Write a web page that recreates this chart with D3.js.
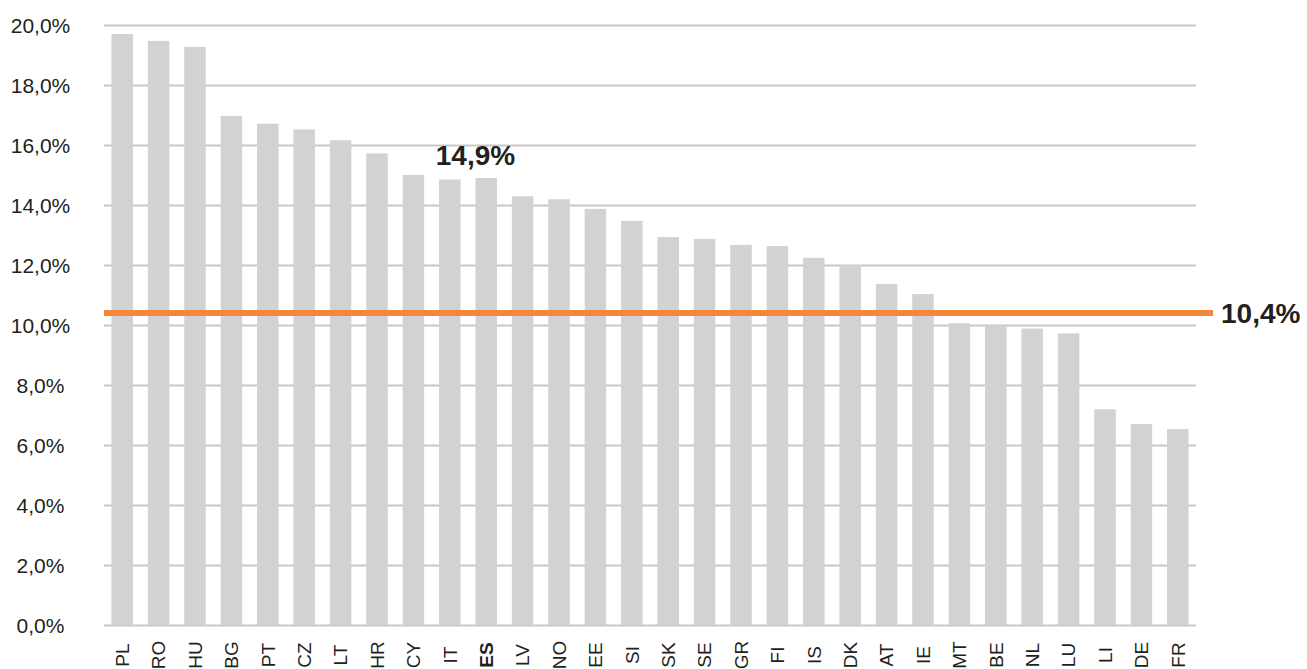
<!DOCTYPE html>
<html>
<head>
<meta charset="utf-8">
<script src="https://cdn.jsdelivr.net/npm/d3@7"></script>
<style>
  html, body { margin: 0; padding: 0; background: #ffffff; }
  svg { display: block; font-family: "Liberation Sans", Arial, Helvetica, sans-serif; }
</style>
</head>
<body>
<svg id="chart" width="1307" height="669"></svg>
<script>
// Country codes, ordered from highest to lowest share
const categories = ["PL","RO","HU","BG","PT","CZ","LT","HR","CY","IT","ES","LV","NO","EE","SI",
                    "SK","SE","GR","FI","IS","DK","AT","IE","MT","BE","NL","LU","LI","DE","FR"];
// Share per country, in percent
const values = [19.7, 19.47, 19.27, 16.97, 16.71, 16.52, 16.16, 15.72, 15.0, 14.85, 14.9, 14.29, 14.19, 13.87, 13.47,
                12.93, 12.87, 12.67, 12.63, 12.24, 12.0, 11.37, 11.03, 10.06, 9.98, 9.88, 9.72, 7.19, 6.7, 6.53];
// Reference average across all countries, in percent
const average = 10.4;
// Country singled out with a bold label and a value callout
const highlight = "ES";
// Y axis tick values, in percent
const yTicks = [0, 2, 4, 6, 8, 10, 12, 14, 16, 18, 20];

const locale = d3.formatLocale({ decimal: ",", thousands: ".", grouping: [3], currency: ["", "€"] });
const fmt1 = locale.format(".1f");
const pct = v => fmt1(v) + "%";

const svg = d3.select("#chart");
const plotLeft = 104, plotRight = 1196, plotTop = 25, plotBottom = 625;

const x = d3.scaleBand()
  .domain(categories)
  .range([plotLeft, plotRight])
  .paddingInner(0.41)
  .paddingOuter(0.205);

const y = d3.scaleLinear()
  .domain([0, 20])
  .range([plotBottom, plotTop]);

// Horizontal gridlines and tick labels
const yAxis = svg.append("g")
  .attr("transform", `translate(${plotLeft},0)`)
  .call(d3.axisLeft(y).tickValues(yTicks).tickSize(-(plotRight - plotLeft)).tickFormat(pct));
yAxis.select(".domain").remove();
yAxis.selectAll(".tick line")
  .attr("stroke", "#c8c8c9")
  .attr("stroke-width", 2);
yAxis.selectAll(".tick text")
  .attr("x", 40.5 - plotLeft)
  .attr("text-anchor", "middle")
  .attr("dy", "0.35em")
  .attr("fill", "#231f20")
  .style("font-size", "21px")
  .style("font-family", "'Liberation Sans', Arial, sans-serif");

// Bars
const data = categories.map((c, i) => ({ c, v: values[i] }));
svg.append("g")
  .selectAll("rect")
  .data(data)
  .join("rect")
  .attr("x", d => x(d.c))
  .attr("width", x.bandwidth())
  .attr("y", d => y(d.v))
  .attr("height", d => y(0) - y(d.v))
  .attr("fill", "#d1d2d4");

// Country labels, rotated to read upward
svg.append("g")
  .selectAll("text")
  .data(data)
  .join("text")
  .attr("transform", d => `translate(${x(d.c) + x.bandwidth() / 2},655) rotate(-90)`)
  .attr("text-anchor", "middle")
  .attr("dy", "0.36em")
  .attr("fill", "#231f20")
  .style("font-size", "19px")
  .style("font-weight", d => d.c === highlight ? "bold" : "normal")
  .text(d => d.c);

// Average line with its label
svg.append("line")
  .attr("x1", plotLeft)
  .attr("x2", 1213)
  .attr("y1", y(average))
  .attr("y2", y(average))
  .attr("stroke", "#f5873a")
  .attr("stroke-width", 6);

svg.append("text")
  .attr("x", 1221)
  .attr("y", y(average))
  .attr("dy", "0.36em")
  .attr("fill", "#231f20")
  .style("font-size", "28px")
  .style("font-weight", "bold")
  .text(pct(average));

// Callout for the highlighted country
const hv = values[categories.indexOf(highlight)];
svg.append("text")
  .attr("x", x(highlight))
  .attr("y", y(hv) - 13)
  .attr("text-anchor", "middle")
  .attr("fill", "#231f20")
  .style("font-size", "28px")
  .style("font-weight", "bold")
  .text(pct(hv));
</script>
</body>
</html>
